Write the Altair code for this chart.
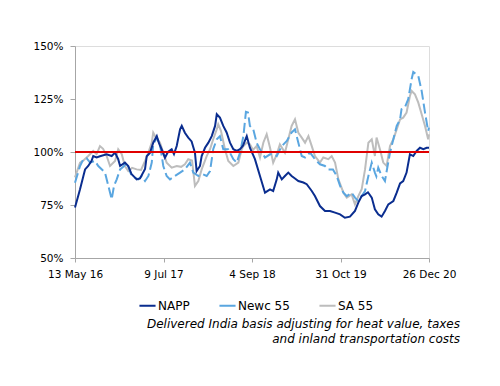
import altair as alt
import pandas as pd

START = pd.Timestamp("2016-05-13")

# Days since 13 May 2016 and values (%) for each series
napp_days = [0, 24, 40, 48, 63, 79, 87, 103, 119, 151, 175, 191, 206, 215, 238, 254, 270, 286, 294, 310, 334,
             342, 358, 373, 390, 401, 413, 429, 443, 461, 472, 485, 501, 509, 524, 540, 556, 572, 580, 596, 604,
             620, 636, 652, 668, 676, 691, 707, 723, 739, 755, 771, 787, 801, 819, 834, 858, 882, 906, 930, 945,
             962, 969, 986, 1001, 1017, 1033, 1049, 1065, 1089, 1105, 1129, 1144, 1168, 1192, 1216, 1240, 1264,
             1287, 1311, 1335, 1351, 1367, 1383, 1397, 1415, 1430, 1446, 1462, 1478, 1494, 1518, 1534, 1550,
             1565, 1581, 1597, 1613, 1629, 1645, 1661, 1677, 1688]
napp_vals = [73.8, 82.4, 88.7, 91.8, 93.4, 95.8, 98.1, 97.4, 98.0, 98.9, 98.1, 99.7, 96.6, 93.4, 95.0, 93.4,
             89.5, 87.9, 87.1, 87.5, 92.0, 98.0, 99.7, 104.4, 107.5, 104.0, 101.3, 97.3, 100.0, 101.3, 99.0,
             102.8, 110.7, 112.3, 109.1, 106.8, 105.0, 99.7, 91.0, 93.4, 98.1, 102.0, 104.4, 107.5, 112.3, 117.8,
             116.2, 112.3, 109.2, 104.4, 101.3, 100.5, 101.3, 103.0, 107.5, 102.0, 96.6, 88.7, 80.8, 82.4, 81.6,
             87.1, 90.3, 87.1, 88.7, 90.3, 88.7, 87.5, 86.3, 85.6, 84.8, 81.6, 79.2, 74.5, 72.2, 72.2, 71.4, 70.6,
             69.0, 69.5, 72.2, 76.1, 79.2, 80.0, 81.0, 78.5, 73.0, 70.6, 69.5, 72.2, 75.3, 76.9, 80.8, 85.2, 86.3,
             90.3, 98.9, 98.1, 100.5, 102.0, 101.3, 102.0, 102.0]

newc_days = [0, 24, 40, 56, 72, 95, 111, 143, 159, 175, 186, 199, 215, 230, 247, 270, 286, 302, 318, 334, 350,
             366, 373, 390, 405, 421, 437, 453, 477, 501, 524, 548, 564, 588, 610, 628, 644, 659, 676, 691, 707,
             730, 755, 771, 787, 803, 815, 825, 834, 850, 866, 882, 906, 930, 945, 962, 986, 1010, 1033, 1049,
             1065, 1081, 1097, 1121, 1144, 1168, 1192, 1208, 1230, 1248, 1264, 1280, 1296, 1319, 1335, 1351, 1367,
             1383, 1399, 1415, 1430, 1437, 1446, 1462, 1478, 1488, 1502, 1518, 1534, 1550, 1557, 1573, 1589, 1605,
             1613, 1637, 1653, 1669, 1684, 1688]
newc_vals = [85.5, 93.4, 96.6, 97.0, 95.0, 95.8, 93.4, 90.3, 84.0, 77.7, 84.0, 87.1, 91.8, 93.0, 95.0, 88.7,
             87.9, 87.1, 88.7, 86.3, 88.7, 95.0, 103.6, 106.8, 103.6, 93.4, 88.7, 87.1, 88.7, 90.3, 91.8, 95.0,
             90.3, 88.7, 89.5, 88.7, 91.0, 101.3, 106.0, 107.5, 101.3, 101.3, 96.6, 95.0, 99.7, 107.5, 118.9,
             118.6, 112.3, 110.7, 104.4, 101.3, 97.4, 98.9, 99.0, 98.1, 102.8, 105.2, 109.2, 110.7, 104.4, 98.1,
             97.4, 99.7, 96.6, 94.2, 93.4, 91.8, 91.8, 88.7, 84.0, 80.8, 79.2, 80.8, 78.5, 76.9, 79.2, 81.6, 88.7,
             95.0, 90.3, 88.5, 92.6, 88.7, 86.3, 92.0, 99.7, 106.0, 112.3, 115.4, 120.2, 121.0, 124.9, 134.3,
             137.7, 135.9, 128.8, 118.6, 109.9, 111.5]

sa_days = [0, 24, 40, 63, 87, 103, 119, 134, 151, 167, 191, 206, 223, 238, 254, 272, 294, 315, 334, 350, 366,
           373, 390, 405, 421, 437, 461, 485, 506, 524, 540, 558, 572, 588, 604, 628, 644, 659, 676, 683, 696,
           715, 731, 755, 779, 795, 803, 819, 834, 849, 866, 882, 898, 914, 930, 945, 962, 977, 1001, 1017, 1033,
           1049, 1065, 1081, 1097, 1113, 1129, 1144, 1168, 1184, 1208, 1224, 1240, 1256, 1280, 1296, 1319, 1335,
           1351, 1367, 1383, 1399, 1415, 1430, 1438, 1454, 1470, 1486, 1502, 1518, 1534, 1550, 1565, 1581, 1597,
           1605, 1621, 1637, 1653, 1669, 1684, 1688]
sa_vals = [88.0, 95.0, 96.0, 98.1, 100.5, 99.0, 102.8, 101.5, 98.1, 93.4, 95.8, 101.3, 99.0, 93.4, 91.0, 92.5,
           91.8, 91.5, 95.8, 99.7, 104.4, 109.1, 106.0, 104.5, 99.7, 95.0, 92.6, 93.4, 93.0, 94.2, 96.6, 96.0,
           84.0, 86.3, 91.8, 98.1, 101.3, 106.0, 110.7, 113.1, 110.0, 101.3, 95.8, 93.4, 95.0, 101.3, 102.8, 104.4,
           103.6, 101.0, 102.8, 97.4, 104.4, 108.4, 102.0, 95.0, 98.9, 103.6, 99.7, 106.0, 112.3, 115.4, 109.1,
           106.8, 104.4, 107.5, 102.8, 98.1, 95.0, 97.4, 96.6, 98.1, 95.0, 87.1, 80.8, 78.5, 80.0, 75.3, 79.2,
           82.4, 91.8, 104.4, 106.0, 98.1, 106.8, 101.3, 95.0, 93.4, 102.8, 106.0, 110.7, 115.4, 116.2, 118.6,
           126.4, 128.8, 127.2, 123.3, 117.8, 112.3, 106.0, 108.3]

series_names = ["NAPP", "Newc 55", "SA 55"]
series_colors = ["#0a2d8f", "#5aa6e0", "#bdbdbd"]
x_tick_dates = ["2016-05-13", "2017-07-09", "2018-09-04", "2019-10-31", "2020-12-26"]
y_ticks = [50, 75, 100, 125, 150]
reference_level = [100]
caption = ["Delivered India basis adjusting for heat value, taxes",
           "and inland transportation costs"]

frames = []
for name, days, vals in [("NAPP", napp_days, napp_vals),
                         ("Newc 55", newc_days, newc_vals),
                         ("SA 55", sa_days, sa_vals)]:
    frames.append(pd.DataFrame({
        "date": [START + pd.Timedelta(days=d) for d in days],
        "value": vals,
        "series": name,
    }))
df = pd.concat(frames, ignore_index=True)

FONT = "DejaVu Sans"

x_enc = alt.X("date:T",
              scale=alt.Scale(domain=[x_tick_dates[0], x_tick_dates[-1]]),
              axis=alt.Axis(values=x_tick_dates, format="%-d %b %y", title=None, grid=False,
                            domainColor="#a6a6a6", tickColor="#a6a6a6", tickSize=4,
                            labelPadding=7, labelFont=FONT, labelFontSize=10.5, labelColor="#000000",
                            labelFlush=False, labelOverlap=False))
y_enc = alt.Y("value:Q",
              scale=alt.Scale(domain=[50, 150], nice=False, zero=False),
              axis=alt.Axis(values=y_ticks, labelExpr="datum.value + '%'", title=None, grid=False,
                            domainColor="#a6a6a6", tickColor="#a6a6a6", tickSize=5,
                            labelPadding=7, labelFont=FONT, labelFontSize=10.5, labelColor="#000000"))

color_enc = alt.Color("series:N",
                      scale=alt.Scale(domain=series_names, range=series_colors),
                      sort=series_names,
                      legend=alt.Legend(title=None, orient="none", direction="horizontal",
                                        legendX=63, legendY=250, symbolType="stroke",
                                        symbolSize=260, symbolStrokeWidth=2, symbolDash=[1, 0],
                                        labelFont=FONT, labelFontSize=12, labelOffset=1,
                                        columnPadding=25, labelColor="#000000"))

base = alt.Chart(df).encode(x=x_enc, y=y_enc, color=color_enc)

sa_line = base.transform_filter(alt.datum.series == "SA 55").mark_line(strokeWidth=2)
newc_line = base.transform_filter(alt.datum.series == "Newc 55").mark_line(strokeWidth=2).encode(
    strokeDash=alt.condition("datum.series === 'Newc 55'", alt.value([10, 4]), alt.value([1, 0])))
napp_line = base.transform_filter(alt.datum.series == "NAPP").mark_line(strokeWidth=2)

ref = alt.Chart(pd.DataFrame({"y": reference_level})).mark_rule(
    color="#e00000", strokeWidth=2).encode(y=alt.Y("y:Q"))

chart = alt.layer(sa_line, newc_line, napp_line, ref).properties(
    width=354,
    height=212,
    autosize=alt.AutoSizeParams(type="none"),
    padding={"left": 67, "top": 38, "right": 60, "bottom": 120},
    title=alt.TitleParams(text=caption, orient="bottom", anchor="end", align="right", frame="group",
                          font=FONT, fontSize=12, fontStyle="italic", fontWeight="normal",
                          color="#000000", dx=31, offset=7, lineHeight=15),
).configure_view(stroke=None).configure(background="white")

chart.save("out.html", embed_options={"renderer": "svg", "actions": False})
